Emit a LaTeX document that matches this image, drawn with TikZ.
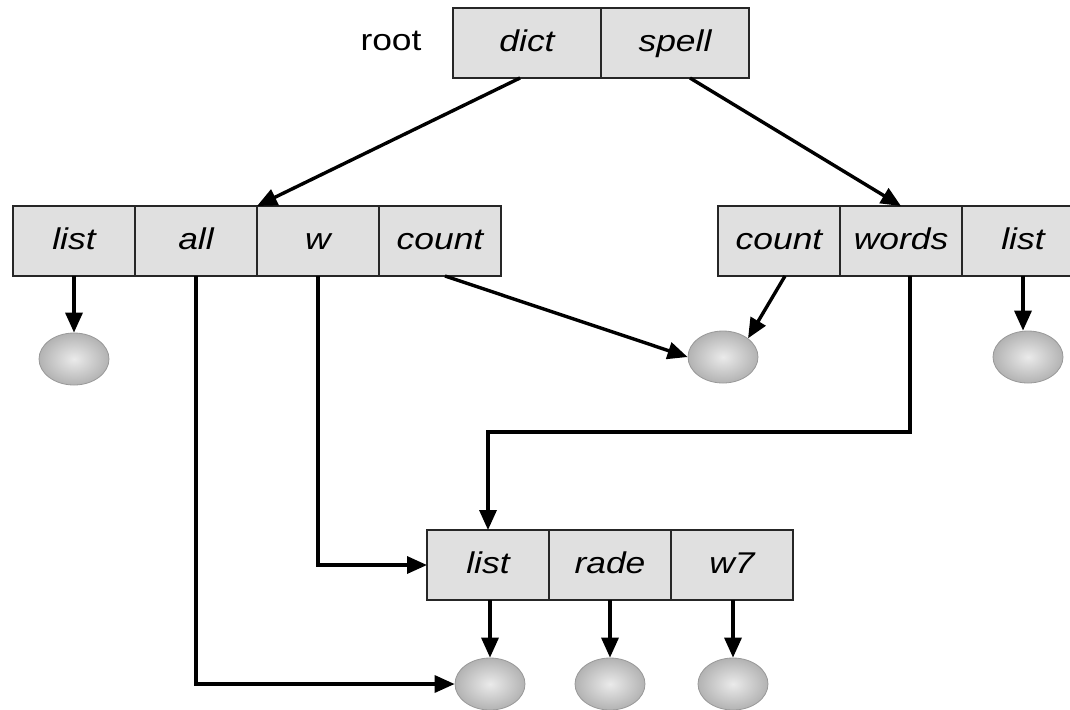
\documentclass[tikz,border=0pt]{standalone}
\usepackage{fontspec}
\setmainfont{Liberation Sans}[FakeStretch=1.18]
\usetikzlibrary{positioning,arrows.meta,shapes.geometric}
\tikzset{
  cell/.style={draw=black!85, line width=1.3pt, fill=black!12, minimum width=61pt,
    minimum height=35pt, inner sep=0pt, outer sep=0pt, text height=11pt, text depth=3pt,
    font=\itshape\fontsize{15}{18}\selectfont},
  file/.style={ellipse, draw=black!40, thin, minimum width=35pt, minimum height=26pt,
    inner color=black!8, outer color=black!30},
  link/.style={line width=1.7pt, -{Triangle[length=10pt,width=8.5pt]}},
}
\begin{document}
\begin{tikzpicture}[x=0.5pt,y=-0.5pt]
    \clip (0,0) rectangle (1070,709);
    \fill[white] (0,0) rectangle (1070,709);
    % root directory
    \node[font=\fontsize{15}{18}\selectfont, text height=11pt, text depth=3pt] (root) at (391,42) {root};
    \node[cell, minimum width=74pt] (dict) at (527,43) {dict};
    \node[cell, minimum width=74pt, right=0pt of dict] (spell) {spell};
    % dict
    \node[cell] (list1) at (74,241) {list};
    \node[cell, right=0pt of list1] (all) {all};
    \node[cell, right=0pt of all] (w) {w};
    \node[cell, right=0pt of w] (count1) {count};
    % spell
    \node[cell] (count2) at (779,241) {count};
    \node[cell, right=0pt of count2] (words) {words};
    \node[cell, right=0pt of words] (list2) {list};
    % shared directory
    \node[cell] (list3) at (488,565) {list};
    \node[cell, right=0pt of list3] (rade) {rade};
    \node[cell, right=0pt of rade] (w7) {w7};
    % files
    \node[file] (f1) at (74,359) {};
    \node[file] (f2) at (723,357) {};
    \node[file] (f3) at (1028,357) {};
    \node[file] (f4) at (490,684) {};
    \node[file] (f5) at (610,684) {};
    \node[file] (f6) at (733,684) {};
    % links
    \draw[link] ([xshift=-3.5pt]dict.south) -- (all.north east);
    \draw[link] ([xshift=7.5pt]spell.south) -- (words.north);
    \draw[link] (list1.south) -- (f1);
    \draw[link] ([xshift=2.5pt]count1.south) -- (f2.west);
    \draw[link] ([xshift=3pt]count2.south) -- (f2.north east);
    \draw[link] (list2.south) -- (list2.south |- f3.north);
    \draw[link] ([xshift=4.5pt]words.south) -- ++(0,156) -| (list3.north);
    \draw[link] (w.south) |- (list3.west);
    \draw[link] (all.south) |- (f4.west);
    \draw[link] ([xshift=1pt]list3.south) -- ([xshift=1pt]list3.south |- f4.north);
    \draw[link] (rade.south) -- (f5);
    \draw[link] ([xshift=0.5pt]w7.south) -- ([xshift=0.5pt]w7.south |- f6.north);
\end{tikzpicture}
\end{document}
